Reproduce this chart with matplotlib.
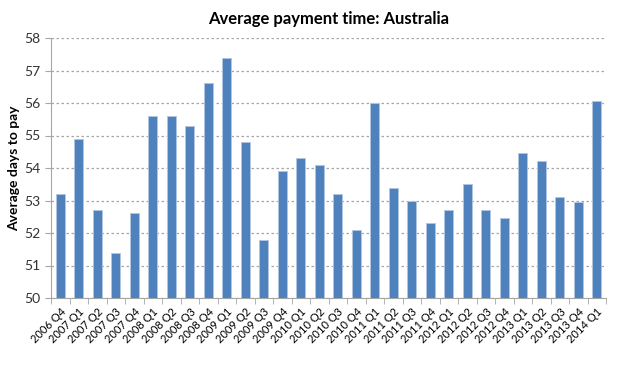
import numpy as np
import matplotlib
matplotlib.use("Agg")
import matplotlib.pyplot as plt
from matplotlib.ticker import FixedLocator

plt.rcParams['font.family'] = ['Lato', 'DejaVu Sans']

quarters = ["2006 Q4", "2007 Q1", "2007 Q2", "2007 Q3", "2007 Q4",
            "2008 Q1", "2008 Q2", "2008 Q3", "2008 Q4", "2009 Q1",
            "2009 Q2", "2009 Q3", "2009 Q4", "2010 Q1", "2010 Q2",
            "2010 Q3", "2010 Q4", "2011 Q1", "2011 Q2", "2011 Q3",
            "2011 Q4", "2012 Q1", "2012 Q2", "2012 Q3", "2012 Q4",
            "2013 Q1", "2013 Q2", "2013 Q3", "2013 Q4", "2014 Q1"]
days = [53.2, 54.9, 52.7, 51.4, 52.6,
        55.6, 55.6, 55.3, 56.6, 57.4,
        54.8, 51.8, 53.9, 54.3, 54.1,
        53.2, 52.1, 56.0, 53.4, 53.0,
        52.3, 52.7, 53.5, 52.7, 52.45,
        54.45, 54.2, 53.1, 52.95, 56.05]
yticks = [50, 51, 52, 53, 54, 55, 56, 57, 58]

fig = plt.figure(figsize=(6.41, 3.74), dpi=100)
ax = fig.add_axes([51/641, 76/374, 555/641, 260/374])

x = np.arange(len(quarters))
ax.bar(x, np.array(days) - 50, bottom=50, width=0.5, color='#4F81BD',
       edgecolor='#B0C6E2', linewidth=0.7, zorder=3)

ax.set_xlim(-0.5, len(quarters) - 0.5)
ax.set_ylim(50, 58)
ax.set_yticks(yticks)
ax.yaxis.grid(True, color='#A6A6A6', linestyle=(0, (2, 2)), linewidth=0.9, zorder=0)
ax.set_xticks(x)
ax.set_xticklabels(quarters, rotation=45, ha='right', rotation_mode='anchor', fontsize=8)
ax.tick_params(axis='x', which='major', length=0, pad=6)
ax.xaxis.set_minor_locator(FixedLocator(np.arange(-0.5, len(quarters), 1.0)))
ax.tick_params(axis='x', which='minor', length=4, color='#A6A6A6')
ax.tick_params(axis='y', length=4, color='#A6A6A6', labelsize=10, labelcolor='#333333')
for s in ['top', 'right']:
    ax.spines[s].set_visible(False)
for s in ['left', 'bottom']:
    ax.spines[s].set_color('#A6A6A6')

ax.set_ylabel("Average days to pay", fontsize=10, fontweight='bold', labelpad=3)
ax.set_title("Average payment time: Australia", fontsize=12, fontweight='bold', pad=10)

fig.savefig("out.png", dpi=100)
